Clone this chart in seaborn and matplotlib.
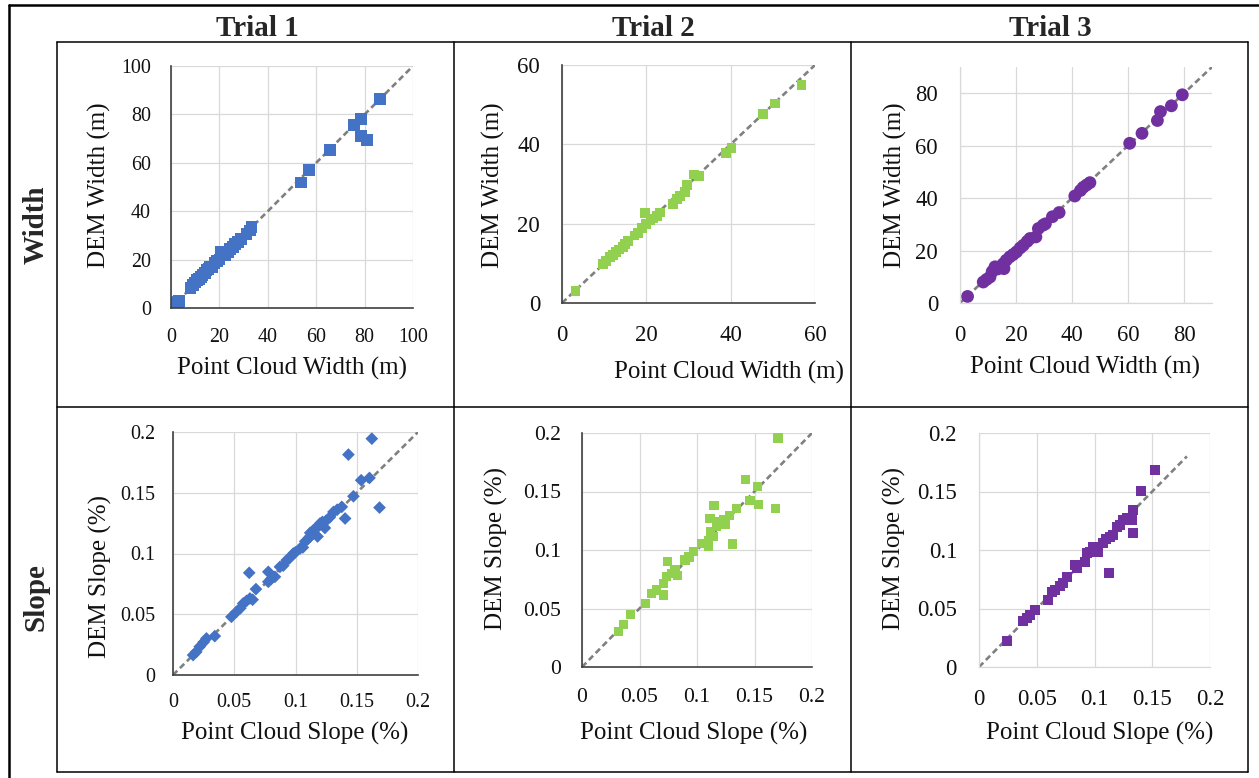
import numpy as np
import pandas as pd
import matplotlib
matplotlib.use("Agg")
import matplotlib.pyplot as plt
from matplotlib.lines import Line2D
from matplotlib.ticker import FuncFormatter, MultipleLocator
import seaborn as sns

# ---------------- data ----------------
columns = ["Trial 1", "Trial 2", "Trial 3"]
rows = ["Width", "Slope"]

t1_width_pc = [2.0, 2.8, 3.2, 8.1, 9.0, 10.0, 10.6, 11.5, 12.3, 13.0, 14.0, 14.7, 15.5,
               16.1, 17.0, 18.0, 19.0, 20.0, 20.6, 21.6, 22.5, 23.5, 24.5, 25.7, 26.5,
               27.8, 29.0, 31.2, 32.5, 33.3, 53.8, 57.0, 65.6, 75.5, 78.4, 78.4, 81.0, 86.5]
t1_width_dem = [2.0, 2.5, 3.0, 8.4, 9.5, 10.5, 11.7, 12.0, 12.8, 13.5, 14.5, 15.6, 16.0,
                16.9, 17.0, 18.5, 19.5, 20.0, 23.1, 21.8, 22.0, 23.0, 24.5, 25.2, 26.5,
                27.3, 28.5, 30.7, 32.0, 33.5, 51.9, 56.9, 65.4, 75.5, 78.0, 71.0, 69.3, 86.5]

t2_width_pc = [3.2, 9.7, 10.5, 11.3, 12.1, 12.9, 13.6, 14.5, 15.0, 15.7, 17.2, 18.0, 19.0,
               19.6, 20.0, 21.0, 21.6, 22.5, 23.2, 26.4, 27.2, 28.0, 29.1, 29.7, 31.4, 32.5,
               38.8, 40.2, 47.6, 50.5, 56.8]
t2_width_dem = [3.0, 9.9, 10.6, 11.6, 12.2, 12.9, 13.5, 14.1, 14.8, 15.6, 17.0, 17.7, 19.0,
                22.6, 20.0, 20.8, 21.3, 22.0, 22.8, 24.9, 26.3, 27.0, 28.0, 29.7, 32.4, 32.1,
                37.9, 39.0, 47.6, 50.3, 55.0]

t3_width_pc = [2.7, 8.3, 9.5, 10.7, 11.5, 12.5, 13.5, 14.5, 15.5, 15.7, 16.5, 17.8, 19.0,
               20.2, 21.5, 22.6, 24.0, 25.0, 27.1, 28.0, 29.7, 30.5, 33.0, 35.4, 41.0, 43.0,
               44.0, 45.2, 46.4, 60.6, 65.0, 70.5, 71.6, 75.5, 79.4]
t3_width_dem = [2.5, 8.0, 9.0, 9.9, 12.0, 13.8, 13.0, 14.0, 15.0, 13.1, 16.3, 17.6, 18.5,
                19.5, 21.0, 22.0, 23.5, 24.6, 25.2, 28.4, 29.7, 30.2, 32.9, 34.5, 40.8, 42.9,
                44.1, 45.0, 45.9, 60.9, 64.7, 69.6, 73.0, 75.2, 79.4]

t1_slope_pc = [0.0164, 0.019, 0.0218, 0.025, 0.0273, 0.0341, 0.0477, 0.0518, 0.055, 0.0573,
               0.060, 0.0628, 0.0622, 0.065, 0.0677, 0.0778, 0.0778, 0.080, 0.0832, 0.0873,
               0.090, 0.0928, 0.095, 0.0982, 0.100, 0.1037, 0.106, 0.108, 0.1105, 0.112,
               0.1146, 0.116, 0.118, 0.120, 0.122, 0.125, 0.1282, 0.131, 0.134, 0.1378,
               0.1405, 0.1432, 0.1473, 0.1536, 0.1604, 0.1623, 0.1686, 0.112, 0.118, 0.124]
t1_slope_dem = [0.0164, 0.019, 0.0233, 0.027, 0.0301, 0.032, 0.0479, 0.052, 0.055, 0.0589,
                0.061, 0.063, 0.0841, 0.062, 0.0707, 0.0767, 0.0849, 0.079, 0.0808, 0.089,
                0.090, 0.0945, 0.096, 0.100, 0.101, 0.1041, 0.105, 0.110, 0.1123, 0.114,
                0.1192, 0.120, 0.122, 0.1247, 0.126, 0.127, 0.130, 0.1342, 0.136, 0.1384,
                0.1288, 0.1814, 0.1471, 0.1603, 0.1622, 0.1945, 0.1378, 0.117, 0.114, 0.121]

t2_slope_pc = [0.0318, 0.0361, 0.0419, 0.0549, 0.0607, 0.065, 0.0708, 0.0708, 0.0743, 0.0737,
               0.078, 0.0809, 0.083, 0.0896, 0.093, 0.0968, 0.104, 0.1098, 0.110, 0.1142,
               0.1113, 0.1147, 0.1171, 0.118, 0.1228, 0.125, 0.1286, 0.1309, 0.1344, 0.1422,
               0.1460, 0.1526, 0.1532, 0.1685, 0.1705, 0.112]
t2_slope_dem = [0.0304, 0.0361, 0.0446, 0.054, 0.0631, 0.0659, 0.0716, 0.0616, 0.0901, 0.0773,
                0.080, 0.083, 0.078, 0.0915, 0.094, 0.0986, 0.1057, 0.1028, 0.108, 0.1114,
                0.127, 0.1383, 0.1199, 0.124, 0.1256, 0.122, 0.1298, 0.1051, 0.1355, 0.1605,
                0.1426, 0.154, 0.1392, 0.1355, 0.1957, 0.116]

t3_slope_pc = [0.024, 0.0384, 0.0412, 0.0442, 0.0485, 0.060, 0.0629, 0.066, 0.070, 0.073,
               0.0759, 0.0831, 0.085, 0.0918, 0.0932, 0.096, 0.099, 0.1033, 0.1076, 0.110,
               0.1126, 0.1134, 0.116, 0.1192, 0.122, 0.125, 0.128, 0.1322, 0.1336, 0.1336,
               0.1403, 0.1524]
t3_slope_dem = [0.0224, 0.0389, 0.042, 0.0446, 0.0489, 0.0574, 0.0645, 0.066, 0.069, 0.0716,
                0.0773, 0.0872, 0.085, 0.090, 0.0972, 0.098, 0.1028, 0.0986, 0.1057, 0.109,
                0.0801, 0.1114, 0.113, 0.1199, 0.121, 0.1256, 0.127, 0.1256, 0.1341, 0.1142,
                0.1503, 0.1682]

width_xlabel = "Point Cloud Width (m)"
width_ylabel = "DEM Width (m)"
slope_xlabel = "Point Cloud Slope (%)"
slope_ylabel = "DEM Slope (%)"

# 1:1 reference line extents
ref_line_max = [100, 60, 90, 0.2, 0.2, 0.18]
axis_max = [100, 60, 90, 0.2, 0.2, 0.2]
tick_step = [20, 20, 20, 0.05, 0.05, 0.05]

# ---------------- style ----------------
sns.set_theme(style="white")
plt.rcParams["font.family"] = ["Liberation Serif", "DejaVu Serif"]

W, H = 1259, 778
fig = plt.figure(figsize=(W / 100, H / 100), dpi=100)
fig.patch.set_facecolor("white")

BLUE, GREEN, PURPLE = "#4472C4", "#92D050", "#7030A0"


def px_rect(x0, y0, x1, y1):
    return [x0 / W, 1 - y1 / H, (x1 - x0) / W, (y1 - y0) / H]


panels = [
    dict(rect=(171, 66, 413, 308), x=t1_width_pc, y=t1_width_dem, c=BLUE, m="s", s=72,
         xl=width_xlabel, yl=width_ylabel, dark=True, tfs=14.4, pad=20,
         xlc=(292, 368), ylc=(99, 185)),
    dict(rect=(562, 65, 815, 303), x=t2_width_pc, y=t2_width_dem, c=GREEN, m="s", s=50,
         xl=width_xlabel, yl=width_ylabel, dark=True, tfs=16.5, pad=22,
         xlc=(729, 372), ylc=(493, 185)),
    dict(rect=(960, 67, 1212, 303), x=t3_width_pc, y=t3_width_dem, c=PURPLE, m="o", s=85,
         xl=width_xlabel, yl=width_ylabel, dark=False, tfs=16.3, pad=22,
         xlc=(1085, 367), ylc=(895, 185)),
    dict(rect=(173, 432, 418, 675), x=t1_slope_pc, y=t1_slope_dem, c=BLUE, m="D", s=42,
         xl=slope_xlabel, yl=slope_ylabel, dark=True, tfs=14.4, pad=18,
         xlc=(295, 733), ylc=(100, 577)),
    dict(rect=(582, 433, 812, 667), x=t2_slope_pc, y=t2_slope_dem, c=GREEN, m="s", s=44,
         xl=slope_xlabel, yl=slope_ylabel, dark=True, tfs=15.6, pad=21,
         xlc=(694, 733), ylc=(496, 548)),
    dict(rect=(979, 433, 1210, 667), x=t3_slope_pc, y=t3_slope_dem, c=PURPLE, m="s", s=52,
         xl=slope_xlabel, yl=slope_ylabel, dark=False, tfs=16.5, pad=22,
         xlc=(1100, 733), ylc=(894, 548)),
]

fmt = FuncFormatter(lambda v, p: f"{v:g}")

for i, p in enumerate(panels):
    x0, y0, x1, y1 = p["rect"]
    ax = fig.add_axes(px_rect(x0, y0, x1, y1))
    ax.set_facecolor("white")
    df = pd.DataFrame({"pc": p["x"], "dem": p["y"]})
    lim = ref_line_max[i]
    ax.plot([0, lim], [0, lim], color="#808080", lw=1.9, ls=(0, (2.3, 1.4)), zorder=2)
    sns.scatterplot(data=df, x="pc", y="dem", ax=ax, marker=p["m"], s=p["s"],
                    color=p["c"], edgecolor="none", linewidth=0, legend=False, zorder=3)
    amax = axis_max[i]
    ax.set_xlim(0, amax)
    ax.set_ylim(0, amax)
    ax.xaxis.set_major_locator(MultipleLocator(tick_step[i]))
    ax.yaxis.set_major_locator(MultipleLocator(tick_step[i]))
    ax.xaxis.set_major_formatter(fmt)
    ax.yaxis.set_major_formatter(fmt)
    ax.grid(True, color="#d9d9d9", lw=0.9, zorder=0)
    ax.set_axisbelow(True)
    ax.tick_params(length=0, labelsize=p["tfs"], pad=p["pad"] * 0.72, labelcolor="#111111")
    for side in ("top", "right"):
        ax.spines[side].set_visible(False)
    sc = "#404040" if p["dark"] else "#d9d9d9"
    slw = 1.2 if p["dark"] else 0.9
    for side in ("left", "bottom"):
        ax.spines[side].set_color(sc)
        ax.spines[side].set_linewidth(slw)
        ax.spines[side].set_zorder(4)
    ax.set_xlabel(p["xl"], fontsize=18, color="#111111")
    ax.set_ylabel(p["yl"], fontsize=18, color="#111111")
    xlx = (p["xlc"][0] - x0) / (x1 - x0)
    xly = (y1 - p["xlc"][1]) / (y1 - y0)
    ax.xaxis.set_label_coords(xlx, xly)
    ax.xaxis.label.set_va("center")
    ylx = (p["ylc"][0] - x0) / (x1 - x0)
    yly = (y1 - p["ylc"][1]) / (y1 - y0)
    ax.yaxis.set_label_coords(ylx, yly)
    ax.yaxis.label.set_va("center")

# ---------------- table frame ----------------
def fline(xs, ys, lw):
    fig.add_artist(Line2D([x / W for x in xs], [1 - y / H for y in ys],
                          transform=fig.transFigure, color="black", lw=lw))

fline([9, 9], [5, 778], 1.8)
fline([9, 1259], [5, 5], 1.8)
for xv in (57, 454, 851, 1248):
    fline([xv, xv], [42, 772], 1.1)
for yv in (42, 407, 772):
    fline([57, 1248], [yv, yv], 1.1)

col_centers = [257, 653, 1050]
for name, cx in zip(columns, col_centers):
    fig.text(cx / W, 1 - 29 / H, name, ha="center", va="center",
             fontsize=21, fontweight="bold")
row_centers = [225, 597]
for name, cy in zip(rows, row_centers):
    fig.text(36 / W, 1 - cy / H, name, ha="center", va="center",
             fontsize=21, fontweight="bold", rotation=90)

fig.savefig("out.png", dpi=100, facecolor="white")
